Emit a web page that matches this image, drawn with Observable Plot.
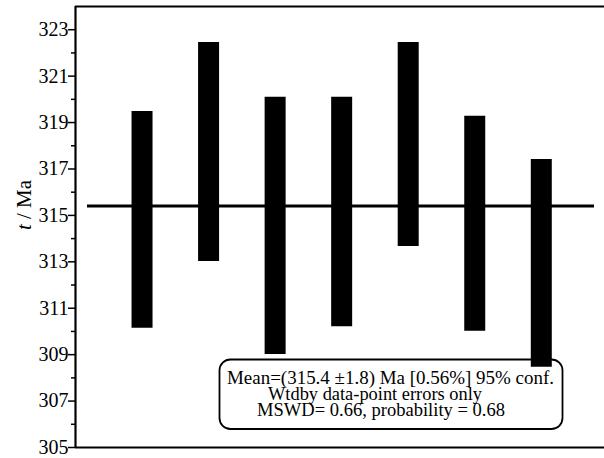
<!DOCTYPE html>
<html>
<head>
<meta charset="utf-8">
<script src="https://cdn.jsdelivr.net/npm/d3@7"></script>
<script src="https://cdn.jsdelivr.net/npm/@observablehq/plot@0.6"></script>
<style>
  html, body { margin: 0; padding: 0; background: white; }
  svg { display: block; }
  #chart svg, #chart svg g, #chart svg text, #chart svg tspan { font-family: "Liberation Serif", "Times New Roman", Times, serif !important; }
</style>
</head>
<body>
<div id="chart"></div>
<script>
// Data
const analyses = [1, 2, 3, 4, 5, 6, 7];
const ageLow  = [310.14, 313.01, 309.01, 310.20, 313.66, 310.01, 308.46];
const ageHigh = [319.48, 322.45, 320.09, 320.09, 322.45, 319.27, 317.41];
const meanAge = 315.4;
const majorTicks = [305, 307, 309, 311, 313, 315, 317, 319, 321, 323];
const minorTicks = [306, 308, 310, 312, 314, 316, 318, 320, 322];
const boxLines = [
  "Mean=(315.4 \u00B11.8) Ma [0.56%] 95% conf.",
  "Wtdby data-point errors only",
  "MSWD= 0.66, probability = 0.68"
];

const bars = analyses.map((a, i) => ({a, lo: ageLow[i], hi: ageHigh[i]}));

const font = "Liberation Serif";

const annotation = (index, scales, values, dims) => {
  const g = d3.create("svg:g");
  g.append("rect")
    .attr("x", 219.5).attr("y", 359.5)
    .attr("width", 343).attr("height", 69.5)
    .attr("rx", 11).attr("ry", 11)
    .attr("fill", "white").attr("stroke", "black").attr("stroke-width", 1.8);
  const starts = [227, 268, 257];
  const widths = [327, 214, 248];
  const bases = [383.5, 399.5, 416];
  boxLines.forEach((t, i) => {
    g.append("text")
      .attr("x", starts[i]).attr("y", bases[i])
      .attr("text-anchor", "start")
      .attr("font-family", font)
      .attr("font-size", 18.5)
      .attr("textLength", widths[i])
      .attr("lengthAdjust", "spacingAndGlyphs")
      .attr("fill", "black")
      .text(t);
  });
  return g.node();
};

const yLabel = (index, scales, values, dims) => {
  const g = d3.create("svg:g");
  const t = g.append("text")
    .attr("transform", "translate(31,205) rotate(-90)")
    .attr("text-anchor", "middle")
    .attr("font-family", font)
    .attr("font-size", 21)
    .attr("fill", "black");
  t.append("tspan").attr("font-style", "italic").text("t");
  t.append("tspan").text(" / Ma");
  return g.node();
};

const chart = Plot.plot({
  width: 604,
  height: 458,
  marginLeft: 75,
  marginRight: 0,
  marginTop: 6,
  marginBottom: 11,
  style: {background: "white", color: "black", fontFamily: font},
  x: {domain: [0, 7.95], axis: null},
  y: {domain: [305, 324], axis: null},
  marks: [
    Plot.axisY({ticks: majorTicks, tickSize: 7, tickPadding: 0, fontSize: 20, fontFamily: font,
                tickFormat: d => String(d), strokeWidth: 1.5, label: null}),
    Plot.axisY({ticks: minorTicks, tickSize: 4, tickFormat: () => "",
                strokeWidth: 1.5, label: null}),
    annotation,
    Plot.ruleX(bars, {x: "a", y1: "lo", y2: "hi", stroke: "black", strokeWidth: 21}),
    Plot.ruleY([meanAge], {stroke: "black", strokeWidth: 3, insetLeft: 12, insetRight: 10}),
    Plot.ruleY([305, 324], {stroke: "black", strokeWidth: 2.2}),
    Plot.ruleX([0], {stroke: "black", strokeWidth: 2.2}),
    yLabel
  ]
});

document.getElementById("chart").appendChild(chart);
</script>
</body>
</html>
